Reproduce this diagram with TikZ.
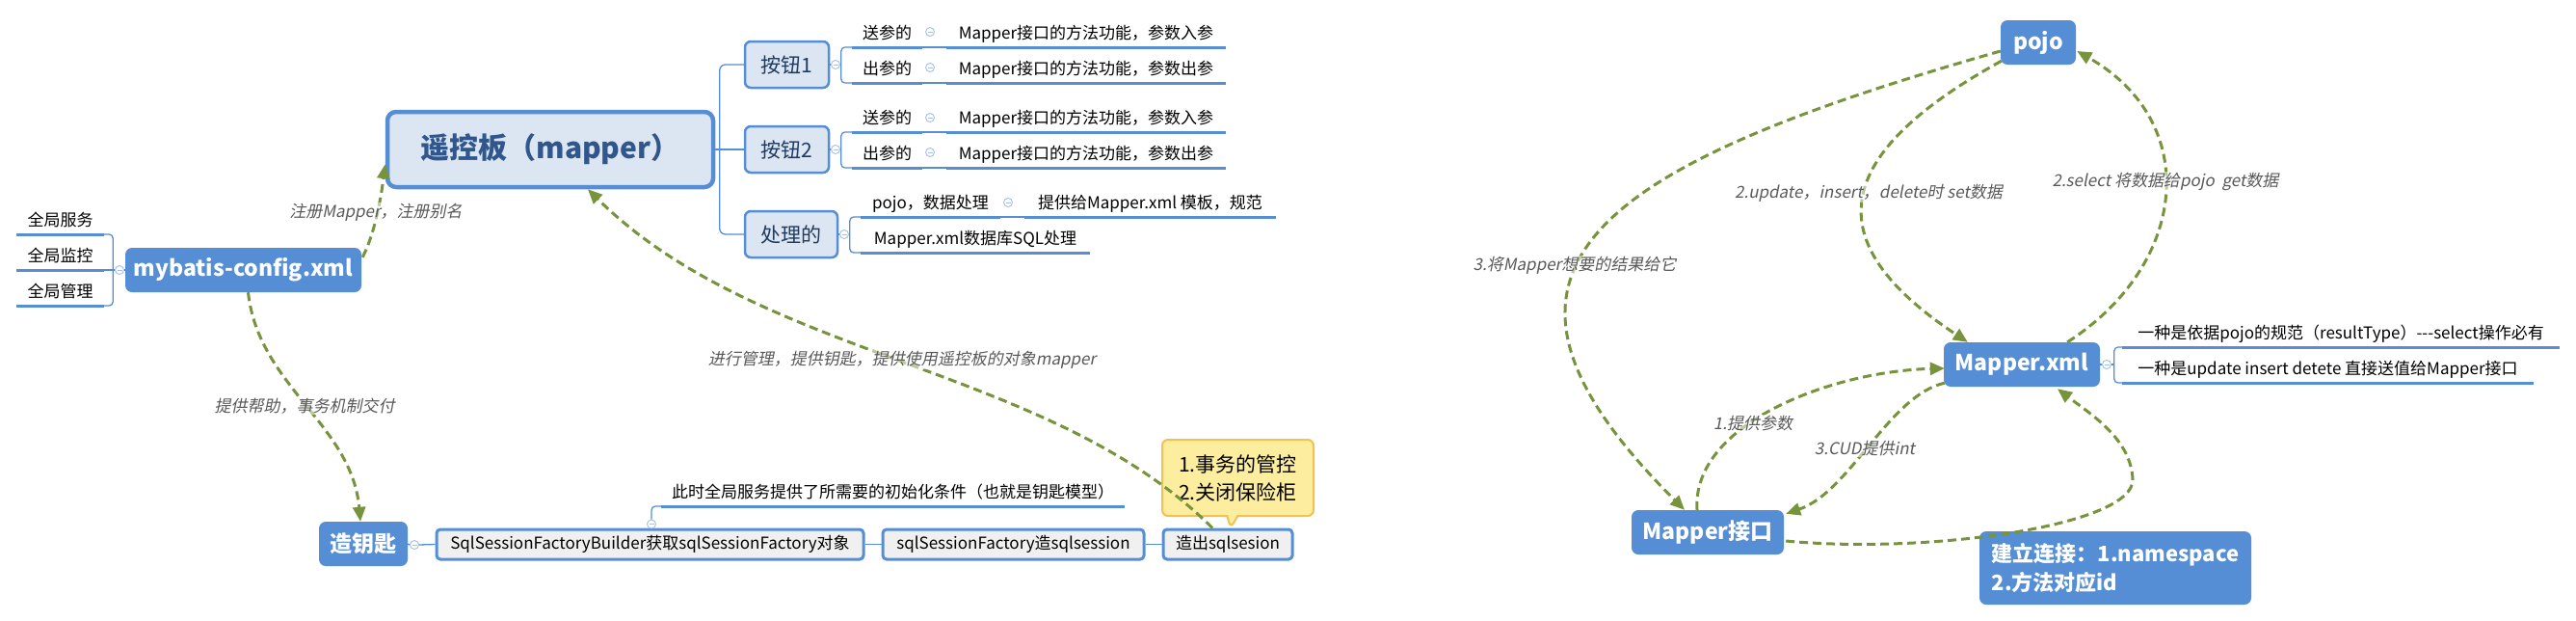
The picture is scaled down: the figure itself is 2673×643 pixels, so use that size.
\documentclass[tikz,border=0pt]{standalone}
\usepackage{fontspec}
\setmainfont{Noto Sans CJK SC}
\newfontfamily\itf{Noto Sans CJK SC}[FakeSlant=0.2]
\usetikzlibrary{arrows.meta,calc,shapes.callouts}
\definecolor{bluebox}{HTML}{558ED5}
\definecolor{lightbox}{HTML}{DCE6F2}
\definecolor{grayfill}{HTML}{F0F0F0}
\definecolor{olive}{HTML}{77933C}
\definecolor{lblc}{HTML}{595959}
\definecolor{titletext}{HTML}{30568C}
\definecolor{btntext}{HTML}{1F3A5F}
\definecolor{togc}{HTML}{A4BFE8}
\definecolor{calfill}{HTML}{FCEE9E}
\definecolor{caldraw}{HTML}{F3C150}
\tikzset{
  bluenode/.style={fill=bluebox, rounded corners=7pt, text=white, font=\fontsize{23}{27}\selectfont\bfseries, inner sep=0pt},
  lightnode/.style={fill=lightbox, draw=bluebox, line width=2.5pt, rounded corners=6pt, text=btntext, font=\fontsize{21}{25}\selectfont, inner sep=0pt},
  graynode/.style={fill=grayfill, draw=bluebox, line width=3pt, rounded corners=4pt, text=black, font=\fontsize{17}{20}\selectfont, inner sep=0pt},
  ulitem/.style={inner xsep=0pt, inner ysep=4pt, text height=13pt, text depth=4pt, anchor=south, font=\fontsize{17}{20}\selectfont},
  ulline/.style={draw=bluebox, line width=3pt},
  conn/.style={draw=bluebox, line width=1.3pt},
  tog/.style={circle, draw=togc, fill=white, line width=0.9pt, minimum size=9pt, inner sep=0pt,
    path picture={\draw[togc, line width=0.9pt] ($(path picture bounding box.center)+(-2.5,0)$) -- ($(path picture bounding box.center)+(2.5,0)$);}},
  flow/.style={draw=olive, line width=3pt, dash pattern=on 9pt off 5pt, -{Triangle[length=15pt,width=13pt]}},
  lab/.style={font=\itf\fontsize{17}{20}\selectfont, text=lblc, inner sep=1pt, fill=white, fill opacity=0.5, text opacity=1},
}
\begin{document}
\begin{tikzpicture}[x=1pt,y=-1pt]
\useasboundingbox (0,0) rectangle (2673,643);
\fill[white] (0,0) rectangle (2673,643);

% ---------------- left mind map ----------------
\node[fill=lightbox, draw=bluebox, line width=4.5pt, rounded corners=9pt, text=titletext,
      font=\fontsize{30}{34}\selectfont\bfseries, minimum width=338pt, minimum height=78pt, inner sep=0pt]
      (main) at (571,155) {遥控板（mapper）};
\node[lightnode, minimum width=87pt, minimum height=48pt] (b1) at (816.5,67) {按钮1};
\node[lightnode, minimum width=87pt, minimum height=48pt] (b2) at (816.5,155) {按钮2};
\node[lightnode, minimum width=96pt, minimum height=48pt] (b3) at (821,243) {处理的};

\node[bluenode, minimum width=245pt, minimum height=46pt] (mybatis) at (252.5,280) {mybatis-config.xml};
\node[bluenode, minimum width=92pt, minimum height=46pt] (zyc) at (377,564) {造钥匙};
\node[graynode, minimum width=443pt, minimum height=31pt] (ssfb) at (674.5,564.5) {SqlSessionFactoryBuilder获取sqlSessionFactory对象};
\node[graynode, minimum width=271pt, minimum height=31pt] (ssf) at (1051.5,564.5) {sqlSessionFactory造sqlsession};
\node[graynode, minimum width=134pt, minimum height=31pt] (zcs) at (1274,564.5) {造出sqlsesion};

\node[rectangle callout, fill=calfill, draw=caldraw, line width=2pt, rounded corners=6pt,
      minimum width=157pt, minimum height=79pt, inner sep=0pt, align=center,
      font=\fontsize{21}{29}\selectfont, callout pointer width=11pt,
      callout absolute pointer={($(zcs.north)+(3,0)$)}]
      (cal) at (1284.5,495.5) {1.事务的管控\\2.关闭保险柜};

% underline items
\node[ulitem, minimum width=91pt] (g1) at (62.5,243) {全局服务};
\node[ulitem, minimum width=91pt] (g2) at (62.5,280) {全局监控};
\node[ulitem, minimum width=91pt] (g3) at (62.5,317) {全局管理};
\node[ulitem, minimum width=73pt] (s1) at (920.5,49) {送参的};
\node[ulitem, minimum width=290pt] (s1r) at (1127,49) {Mapper接口的方法功能，参数入参};
\node[ulitem, minimum width=73pt] (o1) at (920.5,86) {出参的};
\node[ulitem, minimum width=290pt] (o1r) at (1127,86) {Mapper接口的方法功能，参数出参};
\node[ulitem, minimum width=73pt] (s2) at (920.5,137) {送参的};
\node[ulitem, minimum width=290pt] (s2r) at (1127,137) {Mapper接口的方法功能，参数入参};
\node[ulitem, minimum width=73pt] (o2) at (920.5,174) {出参的};
\node[ulitem, minimum width=290pt] (o2r) at (1127,174) {Mapper接口的方法功能，参数出参};
\node[ulitem, minimum width=145pt] (p1) at (965.5,225) {pojo，数据处理};
\node[ulitem, minimum width=261pt] (p1r) at (1193.5,225) {提供给Mapper.xml 模板，规范};
\node[ulitem, minimum width=238pt] (p2) at (1012,262) {Mapper.xml数据库SQL处理};
\node[ulitem, minimum width=481pt] (ci) at (926.5,525) {此时全局服务提供了所需要的初始化条件（也就是钥匙模型）};

\foreach \n in {g1,g2,g3,s1,s1r,o1,o1r,s2,s2r,o2,o2r,p1,p1r,p2,ci}
  \draw[ulline] (\n.south west) -- (\n.south east);

% toggles
\node[tog] (cg) at (124,280) {};
\node[tog] (cb1) at (867,67) {};
\node[tog] (cb2) at (867,155) {};
\node[tog] (cb3) at (876,243) {};
\node[tog] (cs1) at (965,33) {};
\node[tog] (co1) at (965,70) {};
\node[tog] (cs2) at (965,122) {};
\node[tog] (co2) at (965,158) {};
\node[tog] (cp1) at (1046,210) {};
\node[tog] (czy) at (430,565) {};
\node[tog] (cci) at (676,543.5) {};

% tree connectors
\draw[conn] (main.east) -- (b2.west);
\draw[conn, rounded corners=6pt] (b1.west) -- ++(-25,0) |- (b3.west);
\draw[conn] (b1.east) -- (cb1.west);
\draw[conn] (b2.east) -- (cb2.west);
\draw[conn] (b3.east) -- (cb3.west);
\draw[conn] (cb1.east) -- ++(1.5,0);
\draw[conn] (cb2.east) -- ++(1.5,0);
\draw[conn] (cb3.east) -- ++(1.5,0);
\draw[conn, rounded corners=4pt] (s1.south west) -- ++(-11,0) |- (o1.south west);
\draw[conn, rounded corners=4pt] (s2.south west) -- ++(-11,0) |- (o2.south west);
\draw[conn, rounded corners=4pt] (p1.south west) -- ++(-11,0) |- (p2.south west);
\draw[conn] (s1.south east) -- (s1r.south west);
\draw[conn] (o1.south east) -- (o1r.south west);
\draw[conn] (s2.south east) -- (s2r.south west);
\draw[conn] (o2.south east) -- (o2r.south west);
\draw[conn] (p1.south east) -- (p1r.south west);
\draw[conn, rounded corners=4pt] (g1.south east) -- ++(9,0) |- (g3.south east);
\draw[conn] (g2.south east) -- (cg.west);
\draw[conn] (cg.east) -- (mybatis.west);
\draw[conn] (zyc.east) -- (czy.west);
\draw[conn] (czy.east) -- (ssfb.west);
\draw[conn] (ssfb.east) -- (ssf.west);
\draw[conn] (ssf.east) -- (zcs.west);
\draw[conn, rounded corners=4pt] (cci.north) |- (ci.south west);

% ---------------- right diagram ----------------
\node[bluenode, minimum width=78pt, minimum height=46pt] (pojo) at (2115,44) {pojo};
\node[bluenode, minimum width=162pt, minimum height=46pt] (mx) at (2098,378) {Mapper.xml};
\node[bluenode, minimum width=158pt, minimum height=46pt] (mi) at (1772,552) {Mapper接口};
\node[bluenode, minimum width=282pt, minimum height=76pt, align=left, font=\fontsize{22}{30}\selectfont\bfseries]
      (jl) at (2195,589) {建立连接：1.namespace\\2.方法对应id};

\node[ulitem, minimum width=454pt] (m1) at (2429,360) {一种是依据pojo的规范（resultType）-{}-{}-select操作必有};
\node[ulitem, minimum width=427pt] (m2) at (2415.5,397) {一种是update insert detete 直接送值给Mapper接口};
\foreach \n in {m1,m2}
  \draw[ulline] (\n.south west) -- (\n.south east);
\node[tog] (cmx) at (2186,378) {};
\draw[conn] (mx.east) -- (cmx.west);
\draw[conn] (cmx.east) -- ++(3.5,0);
\draw[conn, rounded corners=4pt] (m1.south west) -- ++(-8,0) |- (m2.south west);

% ---------------- dashed flows ----------------
\draw[flow] ($(mybatis.north east)+(1,10)$) .. controls (390,240) and (396,200) .. ($(main.south west)+(0,-26)$);
\draw[flow] ($(mybatis.south)+(5,0)$) .. controls (268,400) and (365,440) .. ($(zyc.north)+(-3,0)$);
\draw[flow] ($(zcs.north)+(-16,0)$) .. controls (1088,378) and (790,374) .. ($(main.south)+(39,0)$);

\draw[flow] ($(pojo.south west)+(1,-4)$) .. controls (1901,160) and (1883,250) .. ($(mx.north west)+(25,0)$);
\draw[flow] ($(mx.north east)+(-34,0)$) .. controls (2271,274) and (2285,127) .. ($(pojo.east)+(1,9)$);
\draw[flow] ($(pojo.west)+(0,9)$) .. controls (1643,176) and (1501,283) .. ($(mi.north)+(-24,0)$);
\draw[flow] ($(mi.north)+(-11,0)$) .. controls (1755,440) and (1900,385) .. ($(mx.west)+(1,4)$);
\draw[flow] ($(mx.south west)+(1,-4)$) .. controls (1960,410) and (1920,510) .. ($(mi.north east)+(2,4)$);
\draw[flow] ($(mi.east)+(2,9)$) .. controls (2000,575) and (2215,545) .. (2213,497)
            .. controls (2211,455) and (2170,430) .. ($(mx.south)+(37,2)$);

% labels
\node[lab] (l1) at (390,220) {注册Mapper，注册别名};
\node[lab] (l2) at (316,421) {提供帮助，事务机制交付};
\node[lab] (l3) at (936,373) {进行管理，提供钥匙，提供使用遥控板的对象mapper};
\node[lab] (r1) at (1939,200) {2.update，insert，delete时 set数据};
\node[lab] (r2) at (2247,188) {2.select 将数据给pojo\ \ get数据};
\node[lab] (r3) at (1634,275) {3.将Mapper想要的结果给它};
\node[lab] (r4) at (1819,439) {1.提供参数};
\node[lab] (r5) at (1935,465) {3.CUD提供int};
\end{tikzpicture}
\end{document}
